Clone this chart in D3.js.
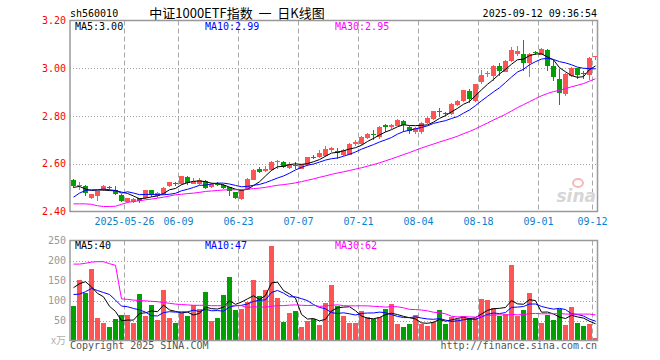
<!DOCTYPE html>
<html><head><meta charset="utf-8">
<script src="https://cdn.jsdelivr.net/npm/d3@7"></script>
<style>body{margin:0;background:#fff}svg{display:block}</style>
</head><body>
<svg id="c" width="660" height="360"></svg>
<script>
// ---------- data ----------
const dates = ["05-13","05-14","05-15","05-16","05-19","05-20","05-21","05-22","05-23","05-26","05-27","05-28","05-29","05-30",
"06-03","06-04","06-05","06-06","06-09","06-10","06-11","06-12","06-13","06-16","06-17","06-18","06-19","06-20","06-23","06-24","06-25","06-26","06-27","06-30",
"07-01","07-02","07-03","07-04","07-07","07-08","07-09","07-10","07-11","07-14","07-15","07-16","07-17","07-18","07-21","07-22","07-23","07-24","07-25","07-28","07-29","07-30","07-31",
"08-01","08-04","08-05","08-06","08-07","08-08","08-11","08-12","08-13","08-14","08-15","08-18","08-19","08-20","08-21","08-22","08-25","08-26","08-27","08-28","08-29",
"09-01","09-02","09-03","09-04","09-05","09-08","09-09","09-10","09-11","09-12"];
const open = [2.530,2.505,2.508,2.457,2.466,2.488,2.503,2.492,2.470,2.438,
2.438,2.455,2.455,2.490,2.463,2.472,2.505,2.518,2.515,2.544,
2.516,2.516,2.529,2.502,2.514,2.510,2.502,2.480,2.453,2.490,
2.533,2.576,2.569,2.572,2.609,2.607,2.583,2.595,2.580,2.595,
2.628,2.628,2.632,2.658,2.652,2.638,2.638,2.682,2.683,2.708,
2.724,2.712,2.763,2.753,2.760,2.781,2.756,2.735,2.735,2.771,
2.786,2.820,2.812,2.808,2.847,2.864,2.906,2.862,2.941,2.975,
2.969,3.011,2.985,3.030,3.061,3.061,3.020,3.068,3.056,3.078,
3.008,2.956,2.894,2.966,3.001,2.980,2.972,3.050];
const high = [2.535,2.525,2.512,2.474,2.487,2.509,2.507,2.505,2.475,2.458,
2.455,2.458,2.492,2.492,2.482,2.502,2.525,2.524,2.550,2.548,
2.540,2.540,2.532,2.520,2.522,2.514,2.504,2.482,2.492,2.540,
2.578,2.585,2.590,2.612,2.614,2.610,2.607,2.607,2.600,2.630,
2.635,2.658,2.675,2.672,2.664,2.660,2.686,2.700,2.716,2.728,
2.742,2.758,2.766,2.768,2.786,2.784,2.758,2.752,2.773,2.794,
2.823,2.832,2.816,2.853,2.868,2.910,2.912,2.934,2.994,2.990,
3.012,3.022,3.033,3.089,3.092,3.117,3.062,3.074,3.084,3.082,
3.036,2.997,2.980,3.004,3.003,2.990,3.048,3.053];
const low = [2.500,2.490,2.467,2.453,2.442,2.486,2.490,2.470,2.440,2.435,
2.435,2.435,2.452,2.462,2.455,2.470,2.502,2.508,2.512,2.510,
2.514,2.512,2.493,2.498,2.505,2.496,2.465,2.452,2.450,2.488,
2.530,2.560,2.565,2.570,2.578,2.582,2.578,2.580,2.577,2.592,
2.618,2.625,2.628,2.648,2.620,2.632,2.636,2.675,2.680,2.705,
2.700,2.705,2.735,2.745,2.757,2.735,2.725,2.725,2.725,2.768,
2.784,2.796,2.800,2.806,2.840,2.858,2.855,2.858,2.932,2.962,
2.945,2.966,2.983,3.028,3.050,2.990,2.962,3.056,3.054,2.990,
2.945,2.847,2.883,2.962,2.953,2.955,2.950,3.035];
const close = [2.505,2.510,2.477,2.472,2.484,2.505,2.500,2.475,2.442,2.456,
2.452,2.442,2.488,2.468,2.477,2.500,2.522,2.515,2.547,2.519,
2.529,2.530,2.500,2.515,2.512,2.500,2.484,2.456,2.490,2.537,
2.575,2.565,2.576,2.608,2.612,2.585,2.601,2.592,2.597,2.628,
2.624,2.646,2.662,2.664,2.643,2.656,2.683,2.690,2.714,2.724,
2.720,2.755,2.752,2.763,2.784,2.763,2.738,2.750,2.771,2.792,
2.821,2.816,2.808,2.851,2.864,2.907,2.873,2.932,2.972,2.980,
3.008,2.988,3.030,3.078,3.074,3.022,3.060,3.064,3.082,3.008,
2.962,2.896,2.978,3.001,2.973,2.976,3.045,3.053];
const volume = [86,151,118,178,56,43,33,53,63,63,
43,116,61,88,51,126,56,43,69,61,
89,78,121,49,56,113,158,76,78,96,
151,111,126,236,106,46,68,73,33,48,
53,38,93,138,87,61,43,43,73,58,
55,58,79,91,41,33,41,63,42,36,
46,76,41,58,55,61,56,56,103,101,
81,61,67,188,61,76,118,56,43,63,
51,80,38,83,43,36,41,6];
const priceMa5Head = [2.501,2.505,2.494,2.488];
const priceMa10Head = [2.460,2.477,2.488,2.491,2.491,2.494,2.491,2.488,2.477];
const priceMa30Head = [2.432,2.432,2.432,2.430,2.424,2.421,2.421,2.422,2.430,2.438,2.442,2.445,2.449,2.452,2.456,2.460,2.465,2.470,2.472,2.475,2.477,2.480,2.484,2.486,2.488,2.490,2.491,2.491,2.492];
const volMa5Head = [132,142,147,134];
const volMa10Head = [115,116,122,130,125,120,115,101,86];
const volMa30Head = [191,191,193,196,197,197,192,188,104,103,101,100,99,98,97,95,93,91,90,89,88,88,88,87,87,87,87,87,87];
const priceTicks = [2.40,2.60,2.80,3.00,3.20];
const volTicks = [50,100,150,200,250];
const dateTicks = ["05-26","06-09","06-23","07-07","07-21","08-04","08-18","09-01","09-12"];
const dateTickLabels = ["2025-05-26","06-09","06-23","07-07","07-21","08-04","08-18","09-01","09-12"];
const legendPrice = ["MA5:3.00","MA10:2.99","MA30:2.95"];
const legendVol = ["MA5:40","MA10:47","MA30:62"];

// ---------- helpers ----------
function movingAvg(vals, n, head){
  return vals.map((v,i)=> i < n-1 ? head[i] : d3.mean(vals.slice(i-n+1, i+1)));
}
const pMa = [movingAvg(close,5,priceMa5Head), movingAvg(close,10,priceMa10Head), movingAvg(close,30,priceMa30Head)];
const vMa = [movingAvg(volume,5,volMa5Head), movingAvg(volume,10,volMa10Head), movingAvg(volume,30,volMa30Head)];
const maColors = ["#000000","#0000ff","#ff00ff"];
const RED = "#ff5454", GREEN = "#00a000";
const MONO = "'DejaVu Sans Mono', 'Liberation Mono', monospace";

const L = 70, R = 597.5;
const svg = d3.select("#c");
const x = d3.scaleBand().domain(dates).range([L, R]).padding(0);
const yP = d3.scaleLinear().domain([2.4, 3.2]).range([211.5, 20.5]);
const yV = d3.scaleLinear().domain([0, 250]).range([340.5, 240.5]);
const cx = d => Math.round(x(d)) + 3;
const bx = d => Math.round(x(d)) + 1;
const BW = 5;

// ---------- header ----------
svg.append("text").attr("x",70).attr("y",17).attr("font-family",MONO).attr("font-size",10).text("sh560010");
svg.append("text").attr("x",237).attr("y",18).attr("text-anchor","middle").style("white-space","pre")
  .attr("font-family","'Noto Sans CJK SC', sans-serif").attr("font-size",13).text("中证1000ETF指数  一  日K线图");
svg.append("text").attr("x",597).attr("y",17).attr("text-anchor","end").attr("font-family",MONO).attr("font-size",10).text("2025-09-12 09:36:54");

// ---------- grids ----------
function panelGrid(yScale, ticks, top, bottom){
  const g = svg.append("g");
  g.selectAll("line.h").data(ticks.filter(t=> yScale(t) > top+1 && yScale(t) < bottom-1)).join("line")
    .attr("x1",L).attr("x2",R).attr("y1",t=>Math.round(yScale(t))+0.5).attr("y2",t=>Math.round(yScale(t))+0.5)
    .attr("stroke","#a0a0a0").attr("stroke-dasharray","1,2");
  g.selectAll("line.v").data(dateTicks).join("line")
    .attr("x1",d=>Math.round(x(d))+0.5).attr("x2",d=>Math.round(x(d))+0.5).attr("y1",top).attr("y2",bottom)
    .attr("stroke","#a8a8a8").attr("stroke-dasharray","5,3");
}
panelGrid(yP, priceTicks, 20.5, 211.5);
panelGrid(yV, volTicks, 240.5, 340.5);

// ---------- watermark ----------
svg.append("ellipse").attr("cx",578).attr("cy",183).attr("rx",5).attr("ry",4).attr("fill","none").attr("stroke","#f4b8b8").attr("stroke-width",2);
svg.append("text").attr("x",596).attr("y",202).attr("text-anchor","end").attr("font-family","'DejaVu Sans', sans-serif")
  .attr("font-style","italic").attr("font-weight","bold").attr("font-size",17).attr("fill","#d6d6d6").text("sina");

// ---------- candles ----------
const cg = svg.append("g").attr("shape-rendering","crispEdges");
const idx = d3.range(dates.length);
const col = i => close[i] >= open[i] ? RED : GREEN;
cg.selectAll("line.w").data(idx).join("line")
  .attr("x1",i=>cx(dates[i])+0.5).attr("x2",i=>cx(dates[i])+0.5)
  .attr("y1",i=>yP(high[i])).attr("y2",i=>yP(low[i])).attr("stroke",col);
cg.selectAll("rect.b").data(idx).join("rect")
  .attr("x",i=>bx(dates[i])).attr("width",BW)
  .attr("y",i=>yP(Math.max(open[i],close[i])))
  .attr("height",i=>Math.max(1, Math.abs(yP(open[i])-yP(close[i]))))
  .attr("fill",col);

// ---------- price MAs ----------
const lineP = d3.line().x((v,i)=>cx(dates[i])+0.5).y(v=>yP(v));
pMa.forEach((arr,k)=> svg.append("path").attr("d",lineP(arr)).attr("fill","none").attr("stroke",maColors[k]).attr("stroke-width",1));

// ---------- volume bars ----------
svg.append("g").attr("shape-rendering","crispEdges").selectAll("rect").data(idx).join("rect")
  .attr("x",i=>bx(dates[i])).attr("width",BW)
  .attr("y",i=>yV(volume[i])).attr("height",i=>yV(0)-yV(volume[i])).attr("fill",col);
const lineV = d3.line().x((v,i)=>cx(dates[i])+0.5).y(v=>yV(v));
vMa.forEach((arr,k)=> svg.append("path").attr("d",lineV(arr)).attr("fill","none").attr("stroke",maColors[k]).attr("stroke-width",1));

// ---------- frames ----------
[[20.5,211.5],[240.5,340.5]].forEach(([t,b])=>{
  svg.append("rect").attr("x",L).attr("y",t).attr("width",R-L).attr("height",b-t)
    .attr("fill","none").attr("stroke","#999").attr("stroke-width",1.5);
});

// ---------- axes labels ----------
const axP = d3.axisLeft(yP).tickValues(priceTicks).tickFormat(d3.format(".2f")).tickSize(0).tickPadding(4);
const gP = svg.append("g").attr("transform",`translate(${L-0},0)`).call(axP);
gP.select(".domain").remove();
gP.selectAll("text").attr("fill","#ff0000").attr("font-family",MONO).attr("font-size",10);

const axV = d3.axisLeft(yV).tickValues(volTicks).tickSize(0).tickPadding(4);
const gV = svg.append("g").attr("transform",`translate(${L},0)`).call(axV);
gV.select(".domain").remove();
gV.selectAll("text").attr("fill","#999").attr("font-family",MONO).attr("font-size",10);
svg.append("text").attr("x",66).attr("y",344).attr("text-anchor","end").attr("fill","#b0b0b0")
  .attr("font-family","'Noto Sans CJK SC', sans-serif").attr("font-size",10).text("x万");

const axX = d3.axisBottom(x).tickValues(dateTicks).tickFormat((d,i)=>dateTickLabels[i]).tickSize(0).tickPadding(6);
const gX = svg.append("g").attr("transform","translate(0,211.5)").call(axX);
gX.select(".domain").remove();
gX.selectAll(".tick").attr("transform",d=>`translate(${Math.round(x(d))+0.5},0)`);
gX.selectAll("text").attr("fill","#0a7fd0").attr("font-family",MONO).attr("font-size",10);

// ---------- legends ----------
const lx = [75,205,335];
legendPrice.forEach((t,k)=> svg.append("text").attr("x",lx[k]).attr("y",30).attr("fill",maColors[k]).attr("font-family",MONO).attr("font-size",10).text(t));
legendVol.forEach((t,k)=> svg.append("text").attr("x",lx[k]).attr("y",249).attr("fill",maColors[k]).attr("font-family",MONO).attr("font-size",10).text(t));

// ---------- footer ----------
svg.append("text").attr("x",70).attr("y",349).attr("fill","#555").attr("font-family",MONO).attr("font-size",10).text("Copyright 2025 SINA.COM");
svg.append("text").attr("x",597).attr("y",349).attr("text-anchor","end").attr("fill","#555").attr("font-family",MONO).attr("font-size",10).text("http://finance.sina.com.cn");
</script>
</body></html>
